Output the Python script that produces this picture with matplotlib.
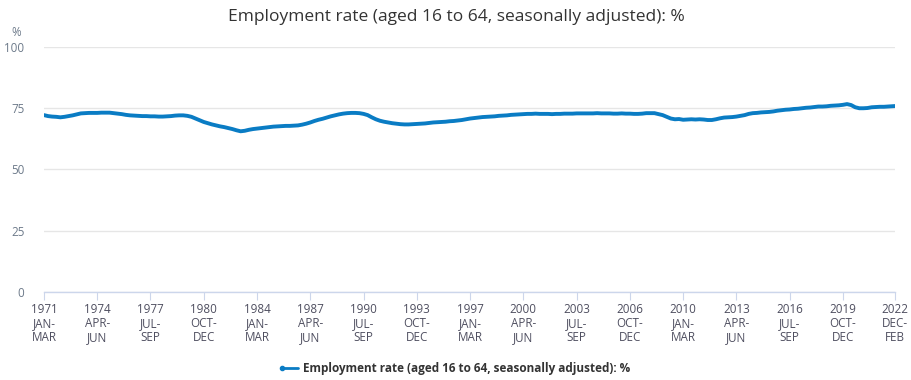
import matplotlib
matplotlib.use("Agg")
import matplotlib.pyplot as plt

# Employment rate (16-64, SA), rolling quarters, one value every 3 months
# starting Jan-Mar 1971; the last value is Dec-Feb 2022/23.
rate = [
    72.2, 71.8, 71.6, 71.5,   # 1971
    71.3, 71.5, 71.8, 72.1,   # 1972
    72.5, 72.9, 73.0, 73.1,   # 1973
    73.1, 73.1, 73.2, 73.2,   # 1974
    73.2, 73.0, 72.8, 72.6,   # 1975
    72.3, 72.1, 72.0, 71.9,   # 1976
    71.8, 71.8, 71.7, 71.7,   # 1977
    71.6, 71.6, 71.7, 71.8,   # 1978
    72.0, 72.1, 72.1, 71.9,   # 1979
    71.5, 70.8, 70.1, 69.4,   # 1980
    68.9, 68.4, 68.0, 67.6,   # 1981
    67.3, 66.9, 66.5, 66.0,   # 1982
    65.6, 65.8, 66.2, 66.5,   # 1983
    66.7, 66.9, 67.1, 67.3,   # 1984
    67.5, 67.6, 67.7, 67.8,   # 1985
    67.8, 67.9, 68.0, 68.3,   # 1986
    68.7, 69.2, 69.8, 70.3,   # 1987
    70.7, 71.2, 71.7, 72.1,   # 1988
    72.5, 72.8, 73.0, 73.1,   # 1989
    73.1, 73.0, 72.7, 72.2,   # 1990
    71.3, 70.5, 69.9, 69.5,   # 1991
    69.2, 68.9, 68.7, 68.5,   # 1992
    68.4, 68.4, 68.5, 68.6,   # 1993
    68.7, 68.8, 69.0, 69.2,   # 1994
    69.3, 69.4, 69.5, 69.7,   # 1995
    69.8, 70.0, 70.2, 70.5,   # 1996
    70.8, 71.0, 71.2, 71.4,   # 1997
    71.5, 71.6, 71.7, 71.9,   # 1998
    72.0, 72.1, 72.3, 72.4,   # 1999
    72.5, 72.6, 72.7, 72.7,   # 2000
    72.8, 72.7, 72.7, 72.7,   # 2001
    72.6, 72.7, 72.7, 72.8,   # 2002
    72.8, 72.8, 72.9, 72.9,   # 2003
    72.9, 72.9, 72.9, 73.0,   # 2004
    72.9, 72.9, 72.9, 72.8,   # 2005
    72.8, 72.9, 72.8, 72.8,   # 2006
    72.7, 72.7, 72.8, 73.0,   # 2007
    73.0, 73.0, 72.6, 72.2,   # 2008
    71.5, 70.8, 70.5, 70.6,   # 2009
    70.3, 70.4, 70.5, 70.4,   # 2010
    70.5, 70.4, 70.2, 70.2,   # 2011
    70.5, 70.9, 71.2, 71.3,   # 2012
    71.4, 71.6, 71.9, 72.2,   # 2013
    72.7, 73.0, 73.1, 73.3,   # 2014
    73.4, 73.5, 73.7, 74.0,   # 2015
    74.2, 74.4, 74.5, 74.7,   # 2016
    74.8, 75.0, 75.2, 75.3,   # 2017
    75.5, 75.7, 75.7, 75.8,   # 2018
    76.0, 76.1, 76.2, 76.4,   # 2019
    76.7, 76.3, 75.4, 75.0,   # 2020
    75.0, 75.1, 75.4, 75.5,   # 2021
    75.6, 75.6, 75.7, 75.8,   # 2022
    75.9,                     # Dec-Feb 2022
]
# month index of each value (Jan 1971 = 0)
months = [3 * i for i in range(len(rate) - 1)] + [623]

tick_pos = [39 * i for i in range(16)] + [623]
tick_labels = [
    "1971\nJAN-\nMAR", "1974\nAPR-\nJUN", "1977\nJUL-\nSEP", "1980\nOCT-\nDEC",
    "1984\nJAN-\nMAR", "1987\nAPR-\nJUN", "1990\nJUL-\nSEP", "1993\nOCT-\nDEC",
    "1997\nJAN-\nMAR", "2000\nAPR-\nJUN", "2003\nJUL-\nSEP", "2006\nOCT-\nDEC",
    "2010\nJAN-\nMAR", "2013\nAPR-\nJUN", "2016\nJUL-\nSEP", "2019\nOCT-\nDEC",
    "2022\nDEC-\nFEB",
]
series_name = "Employment rate (aged 16 to 64, seasonally adjusted): %"

plt.rcParams["font.family"] = ["Open Sans", "DejaVu Sans"]

fig = plt.figure(figsize=(9.12, 3.8), dpi=100)
ax = fig.add_axes([0.0482, 0.2316, 0.933, 0.6447])

line, = ax.plot(months, rate, color="#0a7cc4", lw=2.8, solid_capstyle="round",
                label=series_name)

ax.set_xlim(0, 623)
ax.set_ylim(0, 100)
ax.set_yticks([0, 25, 50, 75, 100])
ax.grid(axis="y", color="#e6e6e6", lw=1)
ax.set_axisbelow(True)
for s in ("top", "right", "left"):
    ax.spines[s].set_visible(False)
ax.spines["bottom"].set_color("#ccd6eb")
ax.spines["bottom"].set_linewidth(1)

ax.set_xticks(tick_pos)
ax.set_xticklabels(tick_labels, fontsize=8.4, color="#4f4f60", linespacing=1.1)
ax.tick_params(axis="x", length=6, color="#ccd6eb", pad=2)
ax.tick_params(axis="y", length=0, labelsize=8.4, labelcolor="#6d7a8a", pad=14)

fig.text(0.5, 0.955, series_name, ha="center", va="center", fontsize=12.5,
         color="#333333")
fig.text(0.012, 0.915, "%", ha="left", va="center", fontsize=8.4, color="#6d7a8a")

fig.legend(handles=[line], loc="center", bbox_to_anchor=(0.5, 0.03), frameon=False,
           prop={"weight": "bold", "size": 8.5}, labelcolor="#333333",
           handlelength=1.4, handletextpad=0.4)
line_leg = fig.legends[0].get_lines()[0]
line_leg.set_linewidth(2)
line_leg.set_marker("o")
line_leg.set_markersize(3)
line_leg.set_markevery([0])

fig.savefig("out.png", dpi=100)
